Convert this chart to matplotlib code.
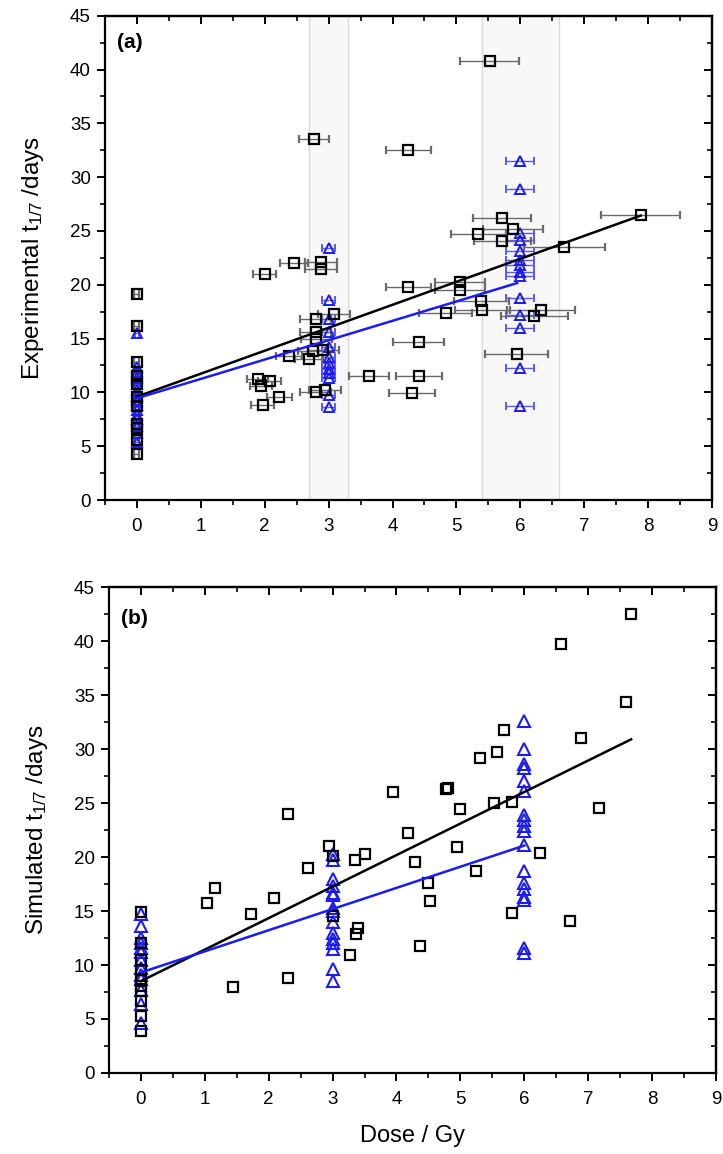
import matplotlib
matplotlib.use("Agg")
import matplotlib.pyplot as plt
from matplotlib.ticker import MultipleLocator
import numpy as np

plt.rcParams['font.family'] = ['Liberation Sans', 'DejaVu Sans']
plt.rcParams['mathtext.fontset'] = 'custom'
plt.rcParams['mathtext.rm'] = 'Liberation Sans'
plt.rcParams['mathtext.it'] = 'Liberation Sans'

# ---- panel (a): experimental, squares (dose, t, dose error) ----
exp_sq_x = [0, 0, 0, 0, 0, 0, 0, 0, 0, 0, 0,
            5.52, 2.77, 4.25, 7.88, 5.71, 5.89, 5.34, 5.72, 6.69, 2.46,
            2.88, 2.88, 2.00, 4.25, 5.05, 5.06, 5.39, 5.40, 4.83, 6.32,
            6.22, 3.08, 2.80, 2.80, 2.81, 2.38, 2.69, 2.75, 2.92, 5.94,
            4.41, 3.63, 4.41, 4.31, 1.89, 2.08, 1.94, 2.23, 1.97, 2.80, 2.95]
exp_sq_y = [19.1, 16.2, 12.8, 11.5, 10.8, 9.6, 8.7, 7.1, 6.7, 5.6, 4.3,
            40.8, 33.5, 32.5, 26.5, 26.2, 25.2, 24.7, 24.1, 23.5, 22.0,
            22.1, 21.5, 21.0, 19.8, 20.3, 19.5, 18.5, 17.7, 17.4, 17.7,
            17.1, 17.3, 16.8, 15.6, 15.0, 13.4, 13.1, 13.8, 13.9, 13.6,
            14.7, 11.5, 11.5, 9.9, 11.2, 11.1, 10.6, 9.6, 8.8, 10.0, 10.2]
exp_sq_xerr = [0.04] * 11 + [
            0.46, 0.24, 0.35, 0.62, 0.45, 0.47, 0.43, 0.45, 0.63, 0.22,
            0.25, 0.25, 0.18, 0.35, 0.39, 0.39, 0.43, 0.43, 0.41, 0.53,
            0.52, 0.25, 0.24, 0.24, 0.24, 0.20, 0.22, 0.23, 0.24, 0.50,
            0.40, 0.31, 0.36, 0.36, 0.17, 0.18, 0.17, 0.20, 0.18, 0.24, 0.25]

# triangles (reference dose groups)
exp_tri_x = [0] * 15 + [3] * 12 + [6] * 14
exp_tri_y = [15.5, 12.4, 11.9, 11.3, 10.8, 10.2, 9.7, 9.3, 8.8, 8.4, 7.9, 7.5, 6.9, 6.2, 5.4,
             23.4, 18.6, 16.8, 15.6, 14.2, 13.3, 12.7, 12.2, 11.8, 11.3, 9.8, 8.6,
             31.5, 28.9, 24.8, 24.2, 23.1, 22.3, 21.8, 21.2, 20.8, 18.8, 17.2, 16.0, 12.3, 8.7]
exp_tri_xerr = [0.03] * 15 + [0.1] * 12 + [0.22] * 14

# ---- panel (b): simulated ----
sim_sq_x = [0, 0, 0, 0, 0, 0, 0, 0, 0, 0,
            7.67, 6.58, 7.59, 6.88, 5.68, 5.58, 5.30, 4.77, 4.80, 3.94,
            2.30, 5.00, 5.53, 5.81, 7.17, 4.18, 2.95, 3.00, 3.51, 3.35,
            4.94, 6.25, 4.29, 2.61, 5.25, 4.50, 1.16, 1.04, 2.08, 4.52,
            1.73, 5.81, 6.71, 3.40, 3.37, 4.36, 3.27, 2.30, 1.44, 3.00]
sim_sq_y = [14.9, 12.0, 10.5, 9.5, 8.7, 8.1, 7.6, 6.7, 5.3, 3.9,
            42.5, 39.7, 34.4, 31.0, 31.8, 29.7, 29.2, 26.3, 26.4, 26.0,
            24.0, 24.4, 25.0, 25.1, 24.5, 22.2, 21.0, 20.1, 20.3, 19.7,
            20.9, 20.4, 19.5, 19.0, 18.7, 17.6, 17.1, 15.7, 16.2, 15.9,
            14.7, 14.8, 14.1, 13.4, 12.9, 11.8, 10.9, 8.8, 8.0, 14.5]

sim_tri_x = [0] * 13 + [3] * 15 + [6] * 18
sim_tri_y = [14.7, 13.6, 12.5, 12.0, 11.6, 11.2, 10.5, 9.7, 9.1, 8.7, 7.7, 6.4, 4.6,
             20.3, 19.7, 18.0, 17.3, 16.7, 16.5, 15.3, 15.0, 14.0, 13.0, 12.4, 12.0, 11.5, 9.6, 8.5,
             32.6, 30.0, 28.6, 28.2, 27.0, 26.1, 23.9, 23.4, 22.9, 22.4, 21.1, 18.7, 17.6, 17.0,
             16.3, 16.0, 11.6, 11.1]

# linear fits: (intercept, slope, last dose)
exp_fit_sq = (9.6, 2.135, 7.88)
exp_fit_tri = (9.45, 1.80, 5.95)
sim_fit_sq = (8.5, 2.92, 7.67)
sim_fit_tri = (9.3, 1.96, 6.0)

# shaded dose windows in panel (a)
bands = [(2.7, 3.3), (5.4, 6.6)]

BLUE = '#1c1cf0'
ERR_GREY = '#6a6a6a'
ERR_BLUE = '#5a5af5'

fig = plt.figure(figsize=(7.23, 11.54), dpi=100)
ax_a = fig.add_axes([0.145, 0.5667, 0.840, 0.4197])
ax_b = fig.add_axes([0.1505, 0.0702, 0.840, 0.4211])


def style_axes(ax):
    ax.set_xlim(-0.5, 9)
    ax.set_ylim(0, 45)
    ax.xaxis.set_major_locator(MultipleLocator(1))
    ax.xaxis.set_minor_locator(MultipleLocator(0.5))
    ax.yaxis.set_major_locator(MultipleLocator(5))
    ax.yaxis.set_minor_locator(MultipleLocator(2.5))
    for s in ax.spines.values():
        s.set_linewidth(1.6)
    ax.tick_params(which='major', direction='out', length=6, width=1.4,
                   labelsize=13.5, pad=7)
    ax.tick_params(which='minor', direction='out', length=3.5, width=1.2)
    ax.tick_params(axis='y', which='major', pad=4)
    # mirrored ticks pointing inwards on top and right
    top = ax.secondary_xaxis('top')
    right = ax.secondary_yaxis('right')
    for sec, loc_maj, loc_min in [(top, 1, 0.5), (right, 5, 2.5)]:
        ax_ = sec.xaxis if sec is top else sec.yaxis
        ax_.set_major_locator(MultipleLocator(loc_maj))
        ax_.set_minor_locator(MultipleLocator(loc_min))
        sec.tick_params(which='major', direction='in', length=6, width=1.4,
                        labelleft=False, labelright=False, labeltop=False)
        sec.tick_params(which='minor', direction='in', length=3.5, width=1.2)
        for s in sec.spines.values():
            s.set_linewidth(1.6)


def draw_fit(ax, fit, color):
    b0, b1, xmax = fit
    xs = np.array([0, xmax])
    ax.plot(xs, b0 + b1 * xs, color=color, lw=1.8, zorder=4)


# panel (a)
style_axes(ax_a)
for lo, hi in bands:
    ax_a.axvspan(lo, hi, color='#f8f8f8', zorder=0)
    ax_a.axvline(lo, color='#dadada', lw=1.0, zorder=0)
    ax_a.axvline(hi, color='#dadada', lw=1.0, zorder=0)

ax_a.errorbar(exp_tri_x, exp_tri_y, xerr=exp_tri_xerr, fmt='^', ms=7.5,
              mfc='none', mec=BLUE, mew=1.4, ecolor=ERR_BLUE, elinewidth=1.0,
              capsize=3, capthick=1.0, zorder=3)
ax_a.errorbar(exp_sq_x, exp_sq_y, xerr=exp_sq_xerr, fmt='s', ms=7.5,
              mfc='none', mec='black', mew=1.6, ecolor=ERR_GREY, elinewidth=1.0,
              capsize=3, capthick=1.0, zorder=3)
draw_fit(ax_a, exp_fit_sq, 'black')
draw_fit(ax_a, exp_fit_tri, BLUE)
ax_a.text(0.02, 0.965, '(a)', transform=ax_a.transAxes, fontsize=15,
          fontweight='bold', va='top', ha='left')
ax_a.set_ylabel('Experimental t$_{1/7}$ /days', fontsize=17.5, labelpad=17)

# panel (b)
style_axes(ax_b)
ax_b.plot(sim_tri_x, sim_tri_y, '^', ms=8, mfc='none', mec=BLUE, mew=1.5,
          zorder=3)
ax_b.plot(sim_sq_x, sim_sq_y, 's', ms=7, mfc='none', mec='black', mew=1.6,
          zorder=3)
draw_fit(ax_b, sim_fit_sq, 'black')
draw_fit(ax_b, sim_fit_tri, BLUE)
ax_b.text(0.02, 0.955, '(b)', transform=ax_b.transAxes, fontsize=15,
          fontweight='bold', va='top', ha='left')
ax_b.set_ylabel('Simulated t$_{1/7}$ /days', fontsize=17.5, labelpad=17)
ax_b.set_xlabel('Dose / Gy', fontsize=17, labelpad=12)

fig.savefig('out.png', dpi=100)
